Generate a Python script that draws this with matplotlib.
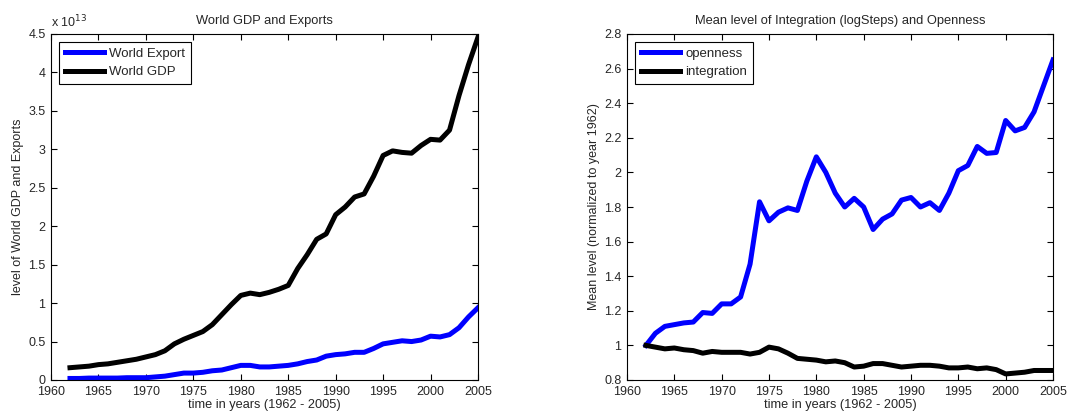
import matplotlib.pyplot as plt
import numpy as np
from matplotlib.ticker import FormatStrFormatter

plt.rcParams['font.family'] = ['Liberation Sans', 'DejaVu Sans']

# years 1962 - 2005
years = list(range(1962, 2006))

# world GDP and exports, in units of 1e13
world_gdp = [0.16, 0.17, 0.18, 0.20, 0.21, 0.23, 0.25, 0.27, 0.30, 0.33,
             0.38, 0.47, 0.53, 0.58, 0.63, 0.72, 0.85, 0.98, 1.10, 1.13,
             1.11, 1.14, 1.18, 1.23, 1.45, 1.63, 1.83, 1.90, 2.15, 2.25,
             2.38, 2.42, 2.65, 2.92, 2.98, 2.96, 2.95, 3.05, 3.13, 3.12,
             3.25, 3.70, 4.10, 4.46]
world_export = [0.02, 0.02, 0.025, 0.025, 0.025, 0.025, 0.03, 0.03, 0.03, 0.04,
                0.05, 0.07, 0.09, 0.09, 0.10, 0.12, 0.13, 0.16, 0.19, 0.19,
                0.17, 0.17, 0.18, 0.19, 0.21, 0.24, 0.26, 0.31, 0.33, 0.34,
                0.36, 0.36, 0.41, 0.47, 0.49, 0.51, 0.50, 0.52, 0.57, 0.56,
                0.59, 0.68, 0.82, 0.94]

# normalized to 1962
openness = [1.00, 1.07, 1.11, 1.12, 1.13, 1.135, 1.19, 1.185, 1.24, 1.24,
            1.28, 1.47, 1.83, 1.72, 1.77, 1.795, 1.78, 1.95, 2.09, 2.00,
            1.88, 1.80, 1.85, 1.80, 1.67, 1.73, 1.76, 1.84, 1.855, 1.80,
            1.825, 1.78, 1.88, 2.01, 2.04, 2.15, 2.11, 2.115, 2.30, 2.24,
            2.26, 2.35, 2.50, 2.65]
integration = [1.00, 0.99, 0.98, 0.985, 0.975, 0.97, 0.955, 0.965, 0.96, 0.96,
               0.96, 0.95, 0.96, 0.99, 0.98, 0.955, 0.925, 0.92, 0.915, 0.905,
               0.91, 0.90, 0.875, 0.88, 0.895, 0.895, 0.885, 0.875, 0.88, 0.885,
               0.885, 0.88, 0.87, 0.87, 0.875, 0.865, 0.87, 0.86, 0.835, 0.84,
               0.845, 0.855, 0.855, 0.855]

TXT = '#262626'


def style_axes(ax):
    ax.tick_params(direction='in', top=True, right=True, labelsize=9, length=4,
                   pad=4, labelcolor=TXT)
    ax.set_xlim(1960, 2005)
    ax.set_xticks(range(1960, 2006, 5))
    ax.yaxis.set_major_formatter(FormatStrFormatter('%g'))
    for s in ax.spines.values():
        s.set_linewidth(0.8)
    ax.set_xlabel('time in years (1962 - 2005)', fontsize=9.2, labelpad=1, color=TXT)


def add_legend(ax):
    leg = ax.legend(loc='upper left', fontsize=9.5, handlelength=3.0, fancybox=False,
                    edgecolor='black', framealpha=1, borderaxespad=0.6,
                    handletextpad=0.35, labelspacing=0.45, borderpad=0.45)
    leg.get_frame().set_linewidth(0.8)
    for t in leg.get_texts():
        t.set_color(TXT)


fig = plt.figure(figsize=(10.85, 4.17), dpi=100)
W, H = 1085, 417

ax1 = fig.add_axes([51 / W, 37 / H, 427 / W, 346 / H])
ax1.plot(years, world_export, color='#0000ff', lw=3.6, label='World Export')
ax1.plot(years, world_gdp, color='black', lw=3.6, label='World GDP')
style_axes(ax1)
ax1.set_ylim(0, 4.5)
ax1.set_yticks(np.arange(0, 4.51, 0.5))
ax1.set_title('World GDP and Exports', fontsize=9.3, pad=7, color=TXT)
ax1.set_ylabel('level of World GDP and Exports', fontsize=9, labelpad=3, color=TXT)
ax1.text(0.0, 1.012, r'x 10$^{13}$', transform=ax1.transAxes, fontsize=9,
         ha='left', va='bottom', color=TXT)
add_legend(ax1)

ax2 = fig.add_axes([627 / W, 37 / H, 426 / W, 346 / H])
ax2.plot(years, openness, color='#0000ff', lw=3.6, label='openness')
ax2.plot(years, integration, color='black', lw=3.6, label='integration')
style_axes(ax2)
ax2.set_ylim(0.8, 2.8)
ax2.set_yticks(np.arange(0.8, 2.81, 0.2))
ax2.set_title('Mean level of Integration (logSteps) and Openness', fontsize=9.3, pad=7,
              color=TXT)
ax2.set_ylabel('Mean level (normalized to year 1962)', fontsize=9, labelpad=3, color=TXT)
add_legend(ax2)

fig.savefig('out.png', dpi=100)
